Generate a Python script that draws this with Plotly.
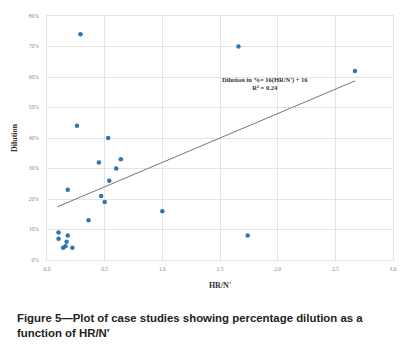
import plotly.graph_objects as go

hr_n = [0.29, 0.26, 0.53, 0.45, 0.64, 0.60, 0.54, 0.18, 0.47, 0.50, 0.36,
        0.10, 0.10, 0.18, 0.17, 0.16, 0.14, 0.22, 1.66, 2.67, 1.00, 1.74]
dilution = [74, 44, 40, 32, 33, 30, 26, 23, 21, 19, 13,
            9, 7, 8, 6, 4.5, 4, 4, 70, 62, 16, 8]
slope, intercept = 16, 16
trend_x = [0.09, 2.67]
trend_y = [slope * v + intercept for v in trend_x]

fig = go.Figure()
fig.add_trace(go.Scatter(x=trend_x, y=trend_y, mode="lines",
                         line=dict(color="#777777", width=1), hoverinfo="skip"))
fig.add_trace(go.Scatter(x=hr_n, y=dilution, mode="markers",
                         marker=dict(color="#2e75b6", size=4.5)))

W, H = 411, 349
L, R, T, B = 39, 26, 5, 97
fig.update_layout(
    width=W, height=H, showlegend=False,
    margin=dict(l=L, r=R, t=T, b=B),
    paper_bgcolor="white", plot_bgcolor="white",
    xaxis=dict(range=[0, 3], dtick=0.5, tickformat=".1f",
               showgrid=True, gridcolor="#e4e4e4", gridwidth=1,
               zeroline=False, showline=True, linecolor="#e4e4e4", mirror=True,
               ticks="", ticklabelstandoff=3,
               tickfont=dict(size=5.5, color="#888888", family="Liberation Serif"),
               title=dict(text="<b>HR/N'</b>", font=dict(size=8, family="Liberation Serif", color="#333333"),
                          standoff=11)),
    yaxis=dict(range=[0, 80], dtick=10, ticksuffix="%",
               showgrid=True, gridcolor="#e4e4e4", gridwidth=1,
               zeroline=False, showline=True, linecolor="#e4e4e4", mirror=True,
               ticks="", ticklabelstandoff=6,
               tickfont=dict(size=5.5, color="#888888", family="Liberation Serif"),
               title=dict(text="<b>Dilution</b>", font=dict(size=8, family="Liberation Serif", color="#333333"),
                          standoff=10)),
)

fig.add_annotation(x=1.89, y=58, xref="x", yref="y", showarrow=False,
                   text="<b>Dilution in %= 16(HR/N') + 16</b><br><b>R² = 0.24</b>",
                   font=dict(size=6.5, family="Liberation Serif", color="#333333"))

pw, ph = W - L - R, H - T - B
fig.add_annotation(xref="paper", yref="paper",
                   x=(7 - L) / pw, y=(H - B - 318) / ph,
                   xanchor="left", yanchor="middle", align="left", showarrow=False,
                   text="<b>Figure 5—Plot of case studies showing percentage dilution as a<br>function of HR/N′</b>",
                   font=dict(size=11.4, family="Liberation Sans", color="#222222"))

fig.write_html("out.html")
